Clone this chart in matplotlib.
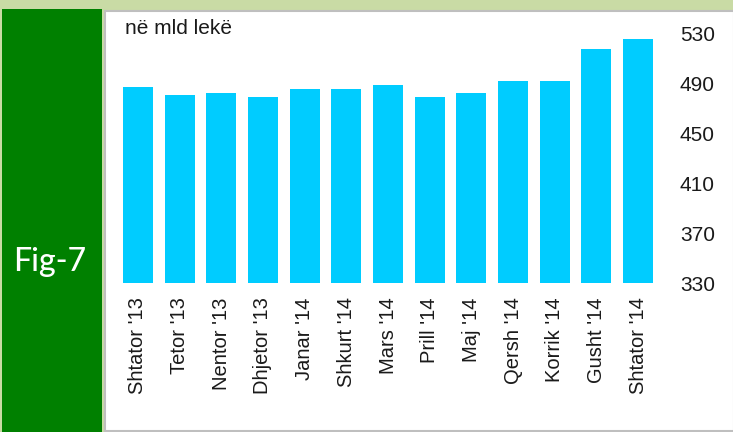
import matplotlib.pyplot as plt
from matplotlib.patches import Rectangle

plt.rcParams['font.family'] = ['Liberation Sans', 'DejaVu Sans']

months = ["Shtator '13", "Tetor '13", "Nentor '13", "Dhjetor '13", "Janar '14", "Shkurt '14",
          "Mars '14", "Prill '14", "Maj '14", "Qersh '14", "Korrik '14", "Gusht '14", "Shtator '14"]
values = [487, 480.5, 482, 479, 485.5, 485.5, 488.5, 479, 482, 492, 492, 517.5, 525.5]
yticks = [330, 370, 410, 450, 490, 530]

W, H = 733, 432
fig = plt.figure(figsize=(W / 100, H / 100), dpi=100)
fig.patch.set_facecolor('#C9DBA5')

# green side panel and white chart panel (pixel coords from top-left)
def px_rect(x0, y0, x1, y1, **kw):
    return Rectangle((x0 / W, 1 - y1 / H), (x1 - x0) / W, (y1 - y0) / H,
                     transform=fig.transFigure, zorder=-5, **kw)

fig.patches.append(px_rect(2, 9, 102, 432, facecolor='#008000', edgecolor='none'))
fig.patches.append(px_rect(105, 11, 734, 431, facecolor='white', edgecolor='#BFBFBF', linewidth=1.5))

fig.text(50 / W, 1 - 262 / H, 'Fig-7', color='white', fontsize=23, family=['Lato', 'DejaVu Sans'],
         fontweight='medium', ha='center', va='center')
fig.text(125 / W, 1 - 19 / H, 'në mld lekë', color='#1a1a1a', fontsize=15, ha='left', va='top')

ax = fig.add_axes([117 / W, 1 - 283.3 / H, 542 / W, 250 / H])
ax.patch.set_alpha(0)
x = range(len(months))
ax.bar(x, values, width=0.72, color='#00CCFF')
ax.set_xlim(-0.5, len(months) - 0.5)
ax.set_ylim(330, 530)
ax.set_yticks(yticks)
ax.set_xticks(list(x))
ax.set_xticklabels(months, rotation=90, fontsize=14.5, color='#1a1a1a')
ax.yaxis.tick_right()
ax.tick_params(axis='y', length=0, pad=15, labelsize=15, labelcolor='#1a1a1a')
ax.tick_params(axis='x', length=0, pad=10)
for s in ax.spines.values():
    s.set_visible(False)

fig.savefig('out.png', dpi=100, facecolor=fig.get_facecolor())
